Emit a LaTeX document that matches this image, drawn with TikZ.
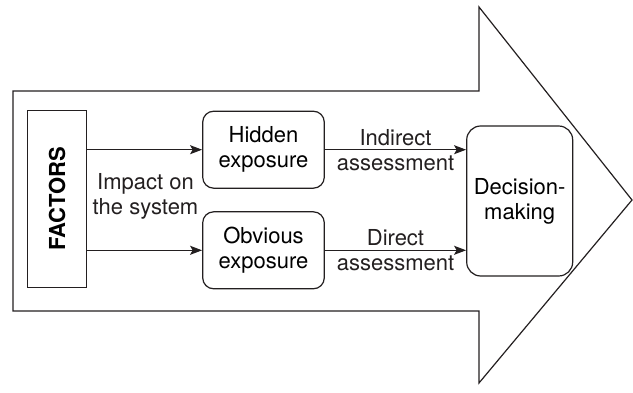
\documentclass[tikz,border=0pt]{standalone}
\usepackage{fontspec}
\setmainfont{TeX Gyre Heros}
\usetikzlibrary{positioning,arrows.meta}
\definecolor{ink}{HTML}{231F20}

\begin{document}
\begin{tikzpicture}[
  x=1pt, y=-1pt,
  font=\fontsize{22}{25}\selectfont,
  >={Stealth[length=12pt,width=9pt,inset=2.5pt]},
  frame/.style={draw=ink, line width=1.2pt, line join=miter},
  factor/.style={draw=ink, fill=white, line width=1.2pt,
                 minimum width=58.6pt, minimum height=177pt, inner sep=0pt},
  expo/.style={draw=ink, fill=white, line width=1.2pt, rounded corners=11pt,
               minimum width=121.6pt, minimum height=77pt,
               align=center, inner sep=0pt},
  decide/.style={draw=ink, fill=white, line width=1.2pt, rounded corners=14pt,
                 minimum width=106pt, minimum height=150pt,
                 align=center, inner sep=0pt},
  flow/.style={->, line width=1.2pt, draw=ink},
  lab/.style={align=center, inner sep=0pt, text=ink},
]
\useasboundingbox (0,0) rectangle (633,393);

% big arrow round the whole chain
\draw[frame] (13,91) -- (479,91) -- (479,7) -- (632,200)
  -- (479,383) -- (479,311) -- (13,311) -- cycle;

\node[factor] (factors) at (57,198.8)
  {\rotatebox{90}{\bfseries FACTORS}};
\node[expo] (hidden) at (263.5,149.7) {Hidden\\exposure};
\node[expo] (obvious) at (263.5,250.3) {Obvious\\exposure};
\node[decide] (decision) at (519.7,201) {Decision-\\making};

\draw[flow] (factors.east |- hidden.west) -- (hidden.west);
\draw[flow] (factors.east |- obvious.west) -- (obvious.west);
\node[lab] (impact) at (145.5,196) {Impact on\\the system};

\draw[flow] (hidden.east) -- node[lab] {Indirect\\assessment}
  (decision.west |- hidden.east);
\draw[flow] (obvious.east) -- node[lab] {Direct\\assessment}
  (decision.west |- obvious.east);
\end{tikzpicture}
\end{document}
